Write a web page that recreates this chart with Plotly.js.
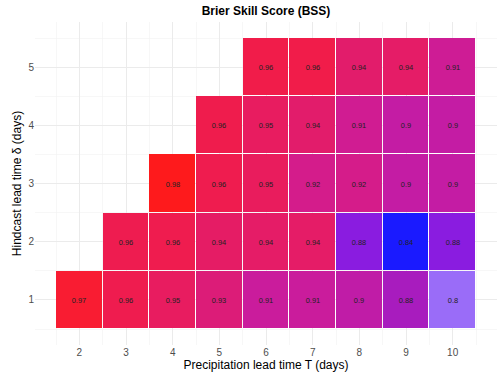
<!DOCTYPE html>
<html>
<head>
<meta charset="utf-8">
<script src="https://cdn.plot.ly/plotly-3.0.1.min.js"></script>
<style>html,body{margin:0;padding:0;background:#fff;}#chart{width:500px;height:377px;}</style>
</head>
<body>
<div id="chart"></div>
<script>
// Precipitation lead time T (days) — x categories
const precipLead = [2, 3, 4, 5, 6, 7, 8, 9, 10];
// Hindcast lead time delta (days) — y categories
const hindcastLead = [1, 2, 3, 4, 5];

// Displayed BSS labels per hindcast lead time (null = no tile)
const bss1 = [0.97, 0.96, 0.95, 0.93, 0.91, 0.91, 0.9, 0.88, 0.8];
const bss2 = [null, 0.96, 0.96, 0.94, 0.94, 0.94, 0.88, 0.84, 0.88];
const bss3 = [null, null, 0.98, 0.96, 0.95, 0.92, 0.92, 0.9, 0.9];
const bss4 = [null, null, null, 0.96, 0.95, 0.94, 0.91, 0.9, 0.9];
const bss5 = [null, null, null, null, 0.96, 0.96, 0.94, 0.94, 0.91];

// Estimated unrounded BSS used for the fill (read from tile colours)
const fill1 = [0.972, 0.958, 0.946, 0.93, 0.907, 0.907, 0.898, 0.885, 0.80];
const fill2 = [null, 0.957, 0.958, 0.942, 0.941, 0.941, 0.875, 0.84, 0.875];
const fill3 = [null, null, 0.98, 0.958, 0.948, 0.918, 0.919, 0.90, 0.90];
const fill4 = [null, null, null, 0.959, 0.946, 0.938, 0.914, 0.90, 0.90];
const fill5 = [null, null, null, null, 0.961, 0.961, 0.938, 0.941, 0.912];

const labels = [bss1, bss2, bss3, bss4, bss5].map(r => r.map(v => v === null ? '' : String(v)));
const fills = [fill1, fill2, fill3, fill4, fill5];

const zmin = 0.80, zmax = 0.98;
const stops = [
  [0.80, '#9a6cf8'], [0.84, '#1a1aff'], [0.875, '#8a1ce0'], [0.885, '#a81cbe'],
  [0.90, '#c41ca4'], [0.91, '#cc1c98'], [0.92, '#d61c88'], [0.93, '#dc1c78'],
  [0.94, '#e41c68'], [0.95, '#ea1c5a'], [0.96, '#f01c4c'], [0.97, '#f81c38'], [0.98, '#fe1a1c']
];
const colorscale = stops.map(s => [(s[0] - zmin) / (zmax - zmin), s[1]]);

const trace = {
  type: 'heatmap',
  x: precipLead,
  y: hindcastLead,
  z: fills,
  text: labels,
  texttemplate: '%{text}',
  textfont: {family: 'Liberation Sans, Arial, sans-serif', size: 7.5, color: '#222'},
  colorscale: colorscale,
  zmin: zmin, zmax: zmax,
  showscale: false,
  xgap: 1, ygap: 1,
  hoverongaps: false
};

const axisCommon = {
  showline: false, zeroline: false, ticks: '',
  gridcolor: '#ebebeb', gridwidth: 1,
  tickfont: {family: 'Liberation Sans, Arial, sans-serif', size: 10, color: '#4d4d4d'},
  minor: {dtick: 0.5, showgrid: true, gridcolor: '#f2f2f2', gridwidth: 0.6}
};

const layout = {
  width: 500, height: 377,
  margin: {l: 35, r: 3, t: 22, b: 32},
  paper_bgcolor: '#fff', plot_bgcolor: '#fff',
  font: {family: 'Liberation Sans, Arial, sans-serif'},
  title: {
    text: '<b>Brier Skill Score (BSS)</b>',
    font: {size: 12, color: '#000'},
    xref: 'paper', x: 0.5, xanchor: 'center',
    yref: 'container', y: 0.971, yanchor: 'middle'
  },
  xaxis: Object.assign({}, axisCommon, {
    range: [1.05, 10.95], tickmode: 'linear', tick0: 2, dtick: 1,
    title: {text: 'Precipitation lead time T (days)', font: {size: 12, color: '#000'}, standoff: 2},
    automargin: false
  }),
  yaxis: Object.assign({}, axisCommon, {
    range: [0.225, 5.775], tickmode: 'linear', tick0: 1, dtick: 1,
    title: {text: 'Hindcast lead time δ (days)', font: {size: 12, color: '#000'}, standoff: 4},
    automargin: false
  })
};

Plotly.newPlot('chart', [trace], layout, {displayModeBar: false, staticPlot: true});
</script>
</body>
</html>
